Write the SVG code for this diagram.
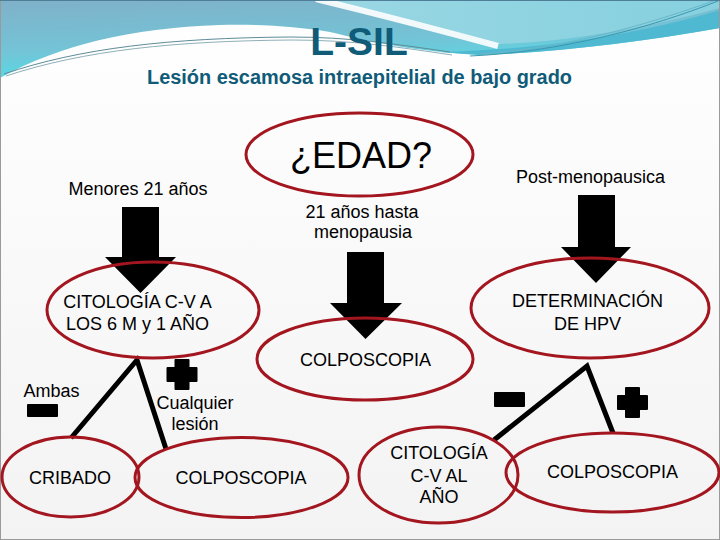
<svg xmlns="http://www.w3.org/2000/svg" width="720" height="540" viewBox="0 0 720 540">
<defs>
<linearGradient id="bg" x1="0" y1="0" x2="0" y2="1"><stop offset="0" stop-color="#ffffff"/><stop offset="1" stop-color="#f3f3f3"/></linearGradient>
<linearGradient id="blueA" x1="0" y1="0" x2="0.3" y2="1"><stop offset="0" stop-color="#7fb1c9"/><stop offset="0.6" stop-color="#74c3d6"/><stop offset="1" stop-color="#52dde6"/></linearGradient>
<linearGradient id="blueB" x1="0" y1="0" x2="1" y2="0"><stop offset="0" stop-color="#9ad7e3"/><stop offset="1" stop-color="#86d0df"/></linearGradient>
<path id="plus" d="M-6.5,-14.5 H6.5 V-6.5 H14.5 V6.5 H6.5 V14.5 H-6.5 V6.5 H-14.5 V-6.5 H-6.5 Z"/>
</defs>
<style>
.title{font-family:"Liberation Sans",Arial,sans-serif;font-weight:bold;fill:#0f5b78;text-anchor:middle}
.t{font-family:"Liberation Sans",Arial,sans-serif;font-size:18px;fill:#000;text-anchor:middle}
.ell{fill:none;stroke:#a3161f;stroke-width:3}
.line{stroke:#000;stroke-width:5;fill:none;stroke-linecap:butt}
.arrow{fill:#000}
.sign{fill:#000;stroke:#000;stroke-width:2;stroke-linejoin:round}
</style>
<g id="background">
<rect x="0" y="0" width="720" height="540" fill="url(#bg)"/>
<path d="M0,0 H720 V28 C640,42 560,52 480,55 C420,52 370,42 330,32 C295,26 255,24 220,25 C130,28 60,45 0,78 Z" fill="url(#blueA)"/>
<path d="M322,0 H720 V8 C640,30 560,42 500,44 Q420,22 322,0 Z" fill="url(#blueB)"/>
<path d="M316,-1 Q410,22 498,46" fill="none" stroke="#ffffff" stroke-width="6" opacity="0.9"/>
<path d="M440,52 C540,50 640,34 720,10 V28 C640,42 560,52 480,55 Z" fill="#4fb9d2"/>
<path d="M4,74 C80,48 170,38 290,37 C350,37 395,44 450,52" fill="none" stroke="#5e8c98" stroke-width="1"/>
<path d="M6,76 C85,50 175,41 292,40 C352,40 398,47 452,55" fill="none" stroke="#8fb0b8" stroke-width="1"/>
<path d="M470,56 C560,52 650,28 718,1" fill="none" stroke="#3b98ae" stroke-width="1"/>
<path d="M480,54 C570,48 655,22 716,0" fill="none" stroke="#6bb7c8" stroke-width="1"/>
<rect x="0.5" y="0.5" width="719" height="539" fill="none" stroke="#9a9a9a" stroke-width="1"/>
<line x1="0" y1="0.5" x2="720" y2="0.5" stroke="#4f7f96" stroke-width="1"/>
</g>
<g id="title">
<text class="title" x="359" y="55" font-size="39">L-SIL</text>
<text class="title" x="359.5" y="83.5" font-size="19.5" textLength="425" lengthAdjust="spacingAndGlyphs">Lesión escamosa intraepitelial de bajo grado</text>
</g>
<g id="connectors">
<path class="arrow" d="M122,207 H159 V257 H176 L140.5,293 L105,257 H122 Z"/>
<path class="arrow" d="M347,252 H384 V303 H402 L365.5,339 L330,303 H347 Z"/>
<path class="arrow" d="M578,195 H615 V247 H631 L596,283 L561,247 H578 Z"/>
<polyline class="line" points="71,438 137,360 166,449"/>
<polyline class="line" points="494,440 587,366 613,433"/>
</g>
<g id="labels">
<text class="t" x="138" y="195">Menores 21 años</text>
<text class="t" x="362" y="218">21 años hasta</text>
<text class="t" x="363" y="238">menopausia</text>
<text class="t" x="590.5" y="183">Post-menopausica</text>
<text class="t" x="51.5" y="397">Ambas</text>
<text class="t" x="195" y="409">Cualquier</text>
<text class="t" x="195" y="430">lesión</text>
<rect class="sign" x="28" y="405" width="29" height="11"/>
<rect class="sign" x="495" y="393" width="29" height="13"/>
<use class="sign" href="#plus" x="182" y="374.5"/>
<use class="sign" href="#plus" x="632.5" y="402.5"/>
</g>
<g id="edad">
<ellipse class="ell" cx="359.5" cy="154.5" rx="113.5" ry="41.5"/>
<text class="t" x="361" y="168" font-size="36" style="font-size:36px">¿EDAD?</text>
</g>
<g id="citologia-6m">
<ellipse class="ell" cx="153" cy="310" rx="106" ry="48"/>
<text class="t" x="137.5" y="308">CITOLOGÍA C-V A</text>
<text class="t" x="137.5" y="330">LOS 6 M y 1 AÑO</text>
</g>
<g id="hpv">
<ellipse class="ell" cx="590" cy="308" rx="119" ry="50"/>
<text class="t" x="587.5" y="307">DETERMINACIÓN</text>
<text class="t" x="587.5" y="330">DE HPV</text>
</g>
<g id="colposcopia-centro">
<ellipse class="ell" cx="365" cy="359" rx="108" ry="41"/>
<text class="t" x="365.5" y="366">COLPOSCOPIA</text>
</g>
<g id="cribado">
<ellipse class="ell" cx="70.5" cy="477" rx="68.5" ry="40"/>
<text class="t" x="70" y="484">CRIBADO</text>
</g>
<g id="colposcopia-izq">
<ellipse class="ell" cx="241.5" cy="477.5" rx="106.5" ry="40"/>
<text class="t" x="241" y="484">COLPOSCOPIA</text>
</g>
<g id="citologia-ano">
<ellipse class="ell" cx="438.5" cy="475" rx="79.5" ry="48"/>
<text class="t" x="439" y="459">CITOLOGÍA</text>
<text class="t" x="439" y="482">C-V AL</text>
<text class="t" x="439" y="503">AÑO</text>
</g>
<g id="colposcopia-der">
<ellipse class="ell" cx="612.5" cy="472.5" rx="106.5" ry="39.5"/>
<text class="t" x="612.5" y="478">COLPOSCOPIA</text>
</g>
</svg>
